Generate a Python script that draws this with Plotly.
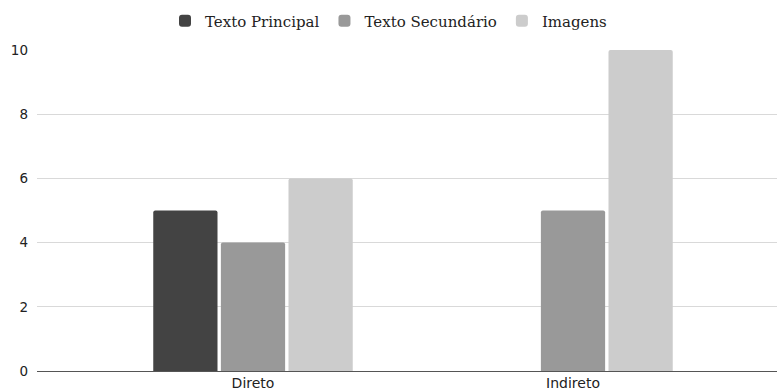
import plotly.graph_objects as go

categories = ["Direto", "Indireto"]
series_names = ["Texto Principal", "Texto Secundário", "Imagens"]
texto_principal = [5, 0]
texto_secundario = [4, 5]
imagens = [6, 10]
colors = ["#434343", "#999999", "#cccccc"]
y_ticks = [0, 2, 4, 6, 8, 10]

fig = go.Figure()
for name, vals, col in zip(series_names, [texto_principal, texto_secundario, imagens], colors):
    fig.add_trace(go.Bar(x=categories, y=vals, name=name, marker=dict(color=col, line=dict(width=0))))

fig.update_layout(
    width=777, height=390,
    margin=dict(l=37, r=0, t=50, b=19),
    paper_bgcolor="white", plot_bgcolor="white",
    barmode="group", bargap=0.366, bargroupgap=0.05,
    barcornerradius=2,
    showlegend=True,
    legend=dict(orientation="h", x=0.5, xanchor="center", xref="container",
                y=0.946, yanchor="middle", yref="container",
                font=dict(family="DejaVu Serif", size=15, color="#222222"),
                traceorder="normal"),
    font=dict(family="DejaVu Sans", size=13, color="#222222"),
)
fig.update_xaxes(type="category", range=[-0.675, 1.6375], showgrid=False, ticks="",
                 tickfont=dict(family="DejaVu Sans", size=14, color="#222222"),
                 ticklabelstandoff=2,
                 showline=False, zeroline=False, automargin=False)
fig.update_yaxes(range=[0, 10], tickvals=y_ticks, showgrid=True, gridcolor="#d9d9d9", gridwidth=1,
                 zeroline=True, zerolinecolor="#555555", zerolinewidth=1,
                 tickfont=dict(family="DejaVu Sans", size=13.5, color="#222222"),
                 ticks="", ticklabelstandoff=8, automargin=False, fixedrange=True)

fig.write_html("out.html")
